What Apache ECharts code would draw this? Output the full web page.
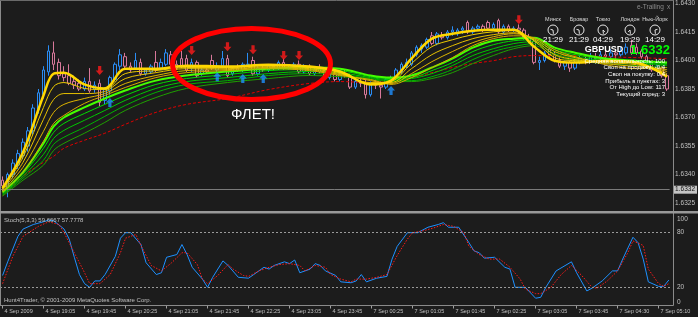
<!DOCTYPE html>
<html><head><meta charset="utf-8">
<script src="https://cdn.jsdelivr.net/npm/echarts@6/dist/echarts.min.js"></script>
<style>html,body{margin:0;padding:0;background:#1c1c1c;}#c{width:698px;height:317px;}</style>
</head><body><div id="c"></div>
<script>
// ---- time categories (5-minute bars) ----
const times4 = ('18:25 18:30 18:35 18:40 18:45 18:50 18:55 ' +
  '19:00 19:05 19:10 19:15 19:20 19:25 19:30 19:35 19:40 19:45 19:50 19:55 ' +
  '20:00 20:05 20:10 20:15 20:20 20:25 20:30 20:35 20:40 20:45 20:50 20:55 ' +
  '21:00 21:05 21:10 21:15 21:20 21:25 21:30 21:35 21:40 21:45 21:50 21:55 ' +
  '22:00 22:05 22:10 22:15 22:20 22:25 22:30 22:35 22:40 22:45 22:50 22:55 ' +
  '23:00 23:05 23:10 23:15 23:20 23:25 23:30 23:35 23:40 23:45 23:50 23:55').split(' ');
const times7 = ('00:00 00:05 00:10 00:15 00:20 00:25 00:30 00:35 00:40 00:45 00:50 00:55 ' +
  '01:00 01:05 01:10 01:15 01:20 01:25 01:30 01:35 01:40 01:45 01:50 01:55 ' +
  '02:00 02:05 02:10 02:15 02:20 02:25 02:30 02:35 02:40 02:45 02:50 02:55 ' +
  '03:00 03:05 03:10 03:15 03:20 03:25 03:30 03:35 03:40 03:45 03:50 03:55 ' +
  '04:00 04:05 04:15 04:20 04:25 04:30 04:35 04:40 04:45 04:50 04:55 ' +
  '05:00 05:05 05:10 05:15 05:20').split(' ');
const categories = times4.map(t => '4 Sep ' + t).concat(times7.map(t => '7 Sep ' + t));
const firstLabel = '4 Sep 2009';

// ---- candles [open, close, low, high] ----
const candles = [
[1.6337,1.6334,1.6331,1.6339],[1.6333,1.6340,1.6328,1.6341],[1.6340,1.6346,1.6338,1.6348],[1.6345,1.6351,1.6343,1.6353],
[1.6350,1.6357,1.6348,1.6359],[1.6355,1.6363,1.6352,1.6365],[1.6363,1.6375,1.6361,1.6377],[1.6374,1.6383,1.6372,1.6385],
[1.6382,1.6395,1.6380,1.6397],[1.6394,1.6405,1.6392,1.6408],[1.6404,1.6398,1.6395,1.6410],[1.6399,1.6392,1.6390,1.6401],
[1.6393,1.6391,1.6389,1.6397],[1.6392,1.6388,1.6387,1.6398],[1.6389,1.6387,1.6385,1.6392],[1.6388,1.6385,1.6384,1.6390],
[1.6385,1.6389,1.6384,1.6391],[1.6389,1.6384,1.6383,1.6396],[1.6385,1.6387,1.6383,1.6389],[1.6388,1.6378,1.6376,1.6390],
[1.6379,1.6385,1.6377,1.6386],[1.6384,1.6391,1.6382,1.6392],[1.6390,1.6398,1.6389,1.6399],[1.6397,1.6403,1.6395,1.6406],
[1.6402,1.6397,1.6396,1.6404],[1.6397,1.6395,1.6394,1.6399],[1.6396,1.6400,1.6395,1.6404],[1.6399,1.6393,1.6392,1.6401],
[1.6393,1.6395,1.6392,1.6396],[1.6394,1.6397,1.6393,1.6398],[1.6399,1.6395,1.6394,1.6405],[1.6396,1.6399,1.6395,1.6401],
[1.6398,1.6404,1.6397,1.6406],[1.6403,1.6398,1.6397,1.6405],[1.6398,1.6396,1.6395,1.6400],[1.6401,1.6397,1.6396,1.6405],
[1.6401,1.6395,1.6394,1.6403],[1.6396,1.6399,1.6394,1.6401],[1.6399,1.6392,1.6391,1.6400],[1.6393,1.6395,1.6392,1.6396],
[1.6395,1.6394,1.6393,1.6396],[1.6400,1.6396,1.6395,1.6403],[1.6395,1.6397,1.6394,1.6399],[1.6397,1.6401,1.6396,1.6405],
[1.6401,1.6392,1.6391,1.6403],[1.6393,1.6396,1.6392,1.6397],[1.6396,1.6395,1.6394,1.6398],[1.6395,1.6398,1.6394,1.6399],
[1.6398,1.6398,1.6397,1.6404],[1.6400,1.6393,1.6392,1.6402],[1.6393,1.6396,1.6392,1.6397],[1.6396,1.6395,1.6394,1.6398],
[1.6395,1.6397,1.6394,1.6398],[1.6397,1.6396,1.6395,1.6398],[1.6396,1.6399,1.6395,1.6400],[1.6399,1.6396,1.6395,1.6401],
[1.6396,1.6396,1.6395,1.6398],[1.6397,1.6398,1.6395,1.6399],[1.6398,1.6394,1.6393,1.6400],[1.6394,1.6397,1.6393,1.6398],
[1.6397,1.6393,1.6392,1.6398],[1.6393,1.6395,1.6392,1.6397],[1.6396,1.6394,1.6393,1.6398],[1.6394,1.6391,1.6390,1.6395],
[1.6391,1.6393,1.6390,1.6394],[1.6393,1.6390,1.6389,1.6395],[1.6390,1.6393,1.6389,1.6394],[1.6393,1.6392,1.6391,1.6395],
[1.6392,1.6386,1.6385,1.6393],[1.6386,1.6389,1.6385,1.6390],[1.6389,1.6388,1.6386,1.6391],[1.6388,1.6382,1.6380,1.6390],
[1.6382,1.6388,1.6381,1.6389],[1.6388,1.6387,1.6385,1.6390],[1.6387,1.6386,1.6380,1.6389],[1.6386,1.6390,1.6385,1.6391],
[1.6390,1.6391,1.6388,1.6392],[1.6391,1.6395,1.6390,1.6396],[1.6394,1.6398,1.6393,1.6399],[1.6397,1.6399,1.6396,1.6401],
[1.6398,1.6404,1.6397,1.6405],[1.6403,1.6407,1.6402,1.6408],[1.6406,1.6408,1.6404,1.6409],[1.6407,1.6411,1.6406,1.6412],
[1.6413,1.6409,1.6408,1.6415],[1.6409,1.6414,1.6408,1.6415],[1.6413,1.6412,1.6411,1.6415],[1.6412,1.6415,1.6411,1.6416],
[1.6415,1.6416,1.6413,1.6418],[1.6414,1.6416,1.6413,1.6417],[1.6416,1.6417,1.6414,1.6418],[1.6420,1.6415,1.6414,1.6421],
[1.6415,1.6417,1.6414,1.6418],[1.6417,1.6418,1.6416,1.6419],[1.6418,1.6416,1.6415,1.6419],[1.6420,1.6417,1.6416,1.6421],
[1.6417,1.6419,1.6416,1.6420],[1.6421,1.6415,1.6414,1.6422],[1.6415,1.6418,1.6414,1.6419],[1.6418,1.6416,1.6415,1.6419],
[1.6416,1.6417,1.6415,1.6418],[1.6417,1.6416,1.6414,1.6419],[1.6416,1.6412,1.6411,1.6417],[1.6412,1.6410,1.6409,1.6414],
[1.6410,1.6399,1.6398,1.6411],[1.6399,1.6400,1.6395,1.6402],[1.6400,1.6404,1.6399,1.6405],[1.6406,1.6403,1.6402,1.6407],
[1.6403,1.6400,1.6399,1.6405],[1.6400,1.6397,1.6396,1.6402],[1.6397,1.6399,1.6395,1.6400],[1.6399,1.6396,1.6394,1.6400],
[1.6396,1.6399,1.6395,1.6401],[1.6399,1.6401,1.6398,1.6403],[1.6401,1.6400,1.6398,1.6403],[1.6400,1.6402,1.6399,1.6404],
[1.6402,1.6401,1.6399,1.6404],[1.6401,1.6403,1.6400,1.6405],[1.6403,1.6402,1.6400,1.6405],[1.6402,1.6404,1.6401,1.6406],
[1.6404,1.6403,1.6401,1.6406],[1.6403,1.6405,1.6402,1.6407],[1.6404,1.6407,1.6403,1.6409],[1.6408,1.6404,1.6403,1.6411],
[1.6407,1.6404,1.6403,1.6409],[1.6405,1.6402,1.6401,1.6406],[1.6402,1.6399,1.6398,1.6403],[1.6399,1.6395,1.6394,1.6400],
[1.6395,1.6397,1.6394,1.6398],[1.6396,1.6392,1.6391,1.6397],[1.6392,1.6385,1.6384,1.6393]
];

// ---- moving-average ribbon, read at these bars ----
const maBars = [0,4,8,10,12,16,20,24,30,36,44,52,60,66,72,76,80,84,88,92,96,100,104,108,112,118,124,130];
const maYellow1 = [1.63328,1.63517,1.63816,1.63931,1.63936,1.63874,1.63853,1.63957,1.63957,1.63973,1.63968,1.63978,1.63968,1.63942,1.63874,1.63894,1.64010,1.64115,1.64141,1.64157,1.64162,1.64162,1.64073,1.63999,1.63989,1.63999,1.63989,1.63915];
const maYellow2 = [1.63323,1.63491,1.63753,1.63863,1.63884,1.63853,1.63847,1.63931,1.63947,1.63963,1.63963,1.63973,1.63963,1.63936,1.63879,1.63889,1.63984,1.64073,1.64109,1.64136,1.64151,1.64157,1.64104,1.64015,1.63999,1.63994,1.63984,1.63931];
const maYellow3 = [1.63318,1.63464,1.63690,1.63795,1.63826,1.63826,1.63837,1.63905,1.63936,1.63957,1.63957,1.63968,1.63957,1.63931,1.63884,1.63884,1.63957,1.64031,1.64078,1.64115,1.64136,1.64146,1.64109,1.64031,1.64005,1.63989,1.63978,1.63942];
const maYellow4 = [1.63312,1.63438,1.63627,1.63727,1.63769,1.63800,1.63826,1.63879,1.63921,1.63947,1.63952,1.63963,1.63952,1.63926,1.63894,1.63879,1.63931,1.63994,1.64047,1.64094,1.64125,1.64141,1.64115,1.64047,1.64015,1.63984,1.63968,1.63952];
const maYellow5 = [1.63307,1.63412,1.63575,1.63669,1.63711,1.63774,1.63816,1.63858,1.63910,1.63936,1.63947,1.63957,1.63947,1.63921,1.63900,1.63874,1.63910,1.63963,1.64015,1.64078,1.64115,1.64130,1.64120,1.64057,1.64020,1.63978,1.63957,1.63963];
const maGreen1 = [1.63307,1.63412,1.63564,1.63653,1.63700,1.63753,1.63800,1.63842,1.63894,1.63921,1.63942,1.63957,1.63963,1.63957,1.63921,1.63910,1.63921,1.63963,1.64010,1.64068,1.64104,1.64115,1.64120,1.64068,1.64041,1.64010,1.63999,1.63989];
const maGreen2 = [1.63302,1.63402,1.63538,1.63622,1.63669,1.63721,1.63769,1.63816,1.63874,1.63905,1.63926,1.63947,1.63952,1.63947,1.63915,1.63905,1.63910,1.63947,1.63989,1.64047,1.64083,1.64104,1.64109,1.64057,1.64031,1.64005,1.63994,1.63984];
const maGreen3 = [1.63297,1.63391,1.63506,1.63590,1.63632,1.63685,1.63737,1.63790,1.63853,1.63889,1.63910,1.63931,1.63942,1.63936,1.63910,1.63900,1.63905,1.63931,1.63973,1.64026,1.64062,1.64089,1.64099,1.64047,1.64020,1.63999,1.63989,1.63978];
const maGreen4 = [1.63291,1.63381,1.63475,1.63559,1.63596,1.63648,1.63706,1.63763,1.63832,1.63874,1.63894,1.63921,1.63931,1.63926,1.63905,1.63894,1.63894,1.63915,1.63952,1.64005,1.64047,1.64073,1.64089,1.64036,1.64010,1.63994,1.63984,1.63973];
const maGreen5 = [1.63286,1.63370,1.63449,1.63527,1.63564,1.63617,1.63674,1.63737,1.63805,1.63853,1.63884,1.63905,1.63921,1.63915,1.63900,1.63889,1.63889,1.63905,1.63936,1.63984,1.64026,1.64062,1.64078,1.64026,1.63999,1.63984,1.63973,1.63963];
const maRed = [1.63286,1.63391,1.63464,1.63496,1.63538,1.63580,1.63617,1.63664,1.63727,1.63769,1.63800,1.63847,1.63879,1.63889,1.63884,1.63894,1.63910,1.63936,1.63963,1.63984,1.63999,1.64020,1.64026,1.64026,1.64026,1.64020,1.64015,1.64010];

// ---- signal arrows ----
const sellBars = [19,37,44,49,55,58,101];
const sellPrices = [1.63947,1.64052,1.64073,1.64057,1.64026,1.64026,1.64214];
const buyBars = [1,21,42,47,51,76];
const buyPrices = [1.62334,1.63779,1.63915,1.63905,1.63905,1.63842];

// ---- price axis ----
const PRICE_MIN = 1.6310, PRICE_MAX = 1.6431, PRICE_STEP = 0.0015, FIRST_LABEL_PRICE = 1.6325;
const BID = 1.6332;

// ---- stochastic (bar index, value) ----
const stochK = [[0,33],[1,48],[3,76],[4,84],[6,89],[8,92],[9,94],[10,93],[12,84],[13,73],[14,53],[15,34],[16,24],[17,20],[18,27],[19,27],[20,34],[22,54],[23,74],[24,80],[25,80],[27,67],[28,47],[30,34],[31,36],[32,53],[34,56],[35,67],[36,56],[37,42],[39,29],[40,20],[41,31],[43,49],[44,44],[46,31],[48,30],[49,34],[51,42],[52,40],[53,44],[55,48],[56,46],[57,50],[58,36],[60,40],[61,46],[62,44],[63,38],[65,33],[66,26],[68,25],[69,27],[70,34],[71,26],[73,30],[75,32],[76,51],[77,65],[79,80],[81,80],[83,86],[85,89],[86,91],[87,86],[89,86],[91,69],[92,60],[93,58],[94,52],[96,53],[98,42],[99,40],[100,20],[102,20],[104,8],[105,9],[106,20],[108,38],[111,48],[112,36],[114,16],[115,19],[117,27],[119,38],[120,38],[121,51],[123,75],[124,69],[125,51],[126,26],[128,21],[129,21],[130,28]];
const stochD = [[0,24],[2,54],[4,76],[7,87],[9,92],[11,89],[12,80],[14,58],[16,36],[17,24],[19,24],[21,34],[23,58],[24,74],[26,78],[27,66],[29,44],[31,38],[33,47],[35,58],[36,58],[38,45],[39,29],[40,24],[42,33],[44,45],[45,40],[47,33],[48,32],[50,38],[52,42],[54,45],[56,46],[58,44],[59,38],[61,44],[63,42],[64,34],[66,29],[68,26],[69,29],[71,29],[73,31],[75,34],[77,55],[79,73],[80,80],[82,82],[84,85],[86,89],[88,87],[90,80],[91,65],[93,56],[95,51],[97,51],[99,42],[101,29],[102,18],[104,13],[105,13],[107,20],[109,34],[111,44],[113,33],[115,20],[116,19],[118,27],[120,38],[122,58],[123,71],[125,66],[126,40],[128,24],[129,21],[130,24]];
const stochLevels = [80, 20];
const stochTitle = 'Stoch(5,3,3) 59.6667 57.7778';

// ---- info panel texts ----
const cities = ['Минск','Бровар','Токио','Лондон','Нью-Йорк'];
const cityTimes = ['21:29','21:29','04:29','19:29','14:29'];
const infoLines = ['Средняя волатильность: 100','Своп на продажу: -0.4','Своп на покупку: 0.4','Прибыль в пунктах: 3','От High до Low: 117','Текущий спред: 3'];
const symbolName = 'GBPUSD';
const symbolPrice = '1.6332';

const FONT = 'Liberation Sans';
const BG = '#1c1c1c';
const pairs = arr => maBars.map((b, k) => [b, arr[k]]);

function maLine(name, arr, color, width, z, type) {
  return { name, type: 'line', xAxisIndex: 0, yAxisIndex: 0, data: pairs(arr), showSymbol: false,
    smooth: 0.35, silent: true, z, lineStyle: { color, width, type: type || 'solid' } };
}
const upArrow = 'path://M5,0 L10,5 L7,5 L7,10 L3,10 L3,5 L0,5 Z';
const downArrow = 'path://M3,0 L7,0 L7,5 L10,5 L5,10 L0,5 L3,5 Z';

// ---- graphics (frames, annotations, clocks) ----
const g = [];
const gl = (x1,y1,x2,y2,c,w) => g.push({type:'line', z:100, silent:true, shape:{x1,y1,x2,y2}, style:{stroke:c, lineWidth:w||1}});
const gt = (x,y,text,opt) => g.push({type:'text', z:101, silent:true, x, y, style:Object.assign({text, fill:'#c0c0c0', fontSize:6, fontFamily:FONT, align:'left', verticalAlign:'middle'}, opt||{})});
gl(0.5,0,0.5,305.5,'#8a8a8a');
gl(673.5,0,673.5,305.5,'#8a8a8a');
gl(0,0.5,673.5,0.5,'#6a6a6a');
gl(0,305.5,673.5,305.5,'#8a8a8a');
g.push({type:'rect', z:100, silent:true, shape:{x:0,y:211,width:698,height:2.5}, style:{fill:'#999999'}});
g.push({type:'ellipse', z:90, silent:true, shape:{cx:251.5, cy:64, rx:79, ry:35.5}, style:{fill:'none', stroke:'#ff0000', lineWidth:5}});
gt(253,115,'ФЛЕТ!',{fill:'#ffffff', fontSize:15, align:'center'});
gt(4,220.5,stochTitle,{fontSize:6});
gt(4,300,'Hunt4Trader, © 2001-2009 MetaQuotes Software Corp.',{fontSize:6});
gt(677,219,'100',{fontSize:6.5});
gt(677,302,'0',{fontSize:6.5});
gt(637,7,'e-Trailing',{fontSize:6.5, fill:'#8c8c8c'});
gt(667,7,'x',{fontSize:6.5, fill:'#8c8c8c'});
const clockX = [553,579,603,630,655];
cities.forEach((c,k) => {
  const cx = clockX[k], cy = 30, r = 5;
  gt(cx,19,c,{fontSize:5.5, align:'center', fill:'#d8d8d8'});
  g.push({type:'circle', z:101, silent:true, shape:{cx, cy, r}, style:{fill:'none', stroke:'#e6e6e6', lineWidth:1}});
  const [h, m] = cityTimes[k].split(':').map(Number);
  const ah = ((h % 12) + m / 60) / 12 * 2 * Math.PI, am = m / 60 * 2 * Math.PI;
  gl(cx, cy, cx + 2.6*Math.sin(ah), cy - 2.6*Math.cos(ah), '#e6e6e6');
  gl(cx, cy, cx + 3.8*Math.sin(am), cy - 3.8*Math.cos(am), '#e6e6e6');
  gt(cx,40,cityTimes[k],{fontSize:8, align:'center', fill:'#ffffff'});
});
gt(604,50,symbolName,{fontSize:9, fontWeight:'bold', align:'center', fill:'#ffffff'});
gt(650,50,symbolPrice,{fontSize:13, fontWeight:'bold', align:'center', fill:'#00ff00'});
infoLines.forEach((t,k) => gt(665, 61 + k*6.7, t, {fontSize:6, align:'right', fill:'#ffffff'}));

const redLine = maLine('red', maRed, '#e00000', 1, 3, [3,2]);
redLine.markLine = {silent:true, symbol:'none', precision:4, data:[{yAxis:BID}], lineStyle:{color:'#7a7a7a', width:1, type:'solid'},
  label:{show:true, position:'end', formatter:BID.toFixed(4), backgroundColor:'#c4c4c4', color:'#111', fontSize:6.5, fontFamily:FONT, padding:[1,2,0,2], distance:3.5}};

const chart = echarts.init(document.getElementById('c'), null, {renderer:'canvas'});
chart.setOption({
  backgroundColor: BG,
  animation: false,
  grid: [
    {left:0, top:0.8, width:671.4, height:230.7},
    {left:0, top:214.5, width:671.4, height:91}
  ],
  xAxis: [
    {type:'category', gridIndex:0, data:categories, boundaryGap:true, axisLine:{show:false}, axisTick:{show:false}, axisLabel:{show:false}, splitLine:{show:false}},
    {type:'category', gridIndex:1, data:categories, boundaryGap:true, axisLine:{show:false},
     axisTick:{show:true, interval:7, alignWithLabel:true, length:3, lineStyle:{color:'#a0a0a0'}},
     axisLabel:{interval:7, formatter:(v,i) => i === 0 ? firstLabel : v, align:'left', margin:3, padding:[0,0,0,2], fontSize:5.5, color:'#c0c0c0', fontFamily:FONT},
     splitLine:{show:false}}
  ],
  yAxis: [
    {type:'value', gridIndex:0, position:'right', min:PRICE_MIN, max:PRICE_MAX, interval:PRICE_STEP,
     axisLine:{show:false}, axisTick:{show:false},
     axisLabel:{margin:5.5, formatter:v => v < FIRST_LABEL_PRICE - 0.00001 ? '' : v.toFixed(4), showMaxLabel:false, fontSize:6.5, color:'#c0c0c0', fontFamily:FONT},
     splitLine:{show:false}},
    {type:'value', gridIndex:1, position:'right', min:0, max:100, interval:20,
     axisLine:{show:false}, axisTick:{show:false},
     axisLabel:{margin:5.5, formatter:v => stochLevels.indexOf(v) >= 0 ? String(v) : '', fontSize:6.5, color:'#c0c0c0', fontFamily:FONT},
     splitLine:{show:false}}
  ],
  series: [
    {type:'candlestick', xAxisIndex:0, yAxisIndex:0, data:candles, barWidth:3, silent:true, z:2,
     itemStyle:{color:BG, color0:BG, borderColor:'#2a8df5', borderColor0:'#d8789a', borderWidth:1}},
    redLine,
    maLine('g5', maGreen5, '#1ea000', 1, 4),
    maLine('g4', maGreen4, '#00b400', 1, 4),
    maLine('g3', maGreen3, '#00c800', 1, 4),
    maLine('g2', maGreen2, '#00dc00', 1, 4),
    maLine('g1', maGreen1, '#44ff00', 2, 5),
    maLine('y5', maYellow5, '#d4a800', 1, 6),
    maLine('y4', maYellow4, '#dcb400', 1, 6),
    maLine('y3', maYellow3, '#e6c000', 1, 6),
    maLine('y2', maYellow2, '#eecc00', 1, 6),
    maLine('y1', maYellow1, '#ffd800', 2.5, 7),
    {type:'scatter', xAxisIndex:0, yAxisIndex:0, clip:false, silent:true, z:8, symbol:downArrow, symbolSize:[8,9],
     itemStyle:{color:'#ff1a1a'}, data:sellBars.map((b,k) => [b, sellPrices[k]])},
    {type:'scatter', xAxisIndex:0, yAxisIndex:0, clip:false, silent:true, z:8, symbol:upArrow, symbolSize:[8,9],
     itemStyle:{color:'#1e90ff'}, data:buyBars.map((b,k) => [b, buyPrices[k]])},
    {type:'line', xAxisIndex:1, yAxisIndex:1, data:stochK, showSymbol:false, silent:true, z:3,
     lineStyle:{color:'#1e90ff', width:1},
     markLine:{silent:true, symbol:'none', label:{show:false}, lineStyle:{color:'#9a9a9a', type:[2,2], width:1},
       data:stochLevels.map(v => ({yAxis:v}))}},
    {type:'line', xAxisIndex:1, yAxisIndex:1, data:stochD, showSymbol:false, silent:true, z:4,
     lineStyle:{color:'#ff1a1a', width:1, type:[1.5,1.5]}}
  ],
  graphic: g
});
</script></body></html>
